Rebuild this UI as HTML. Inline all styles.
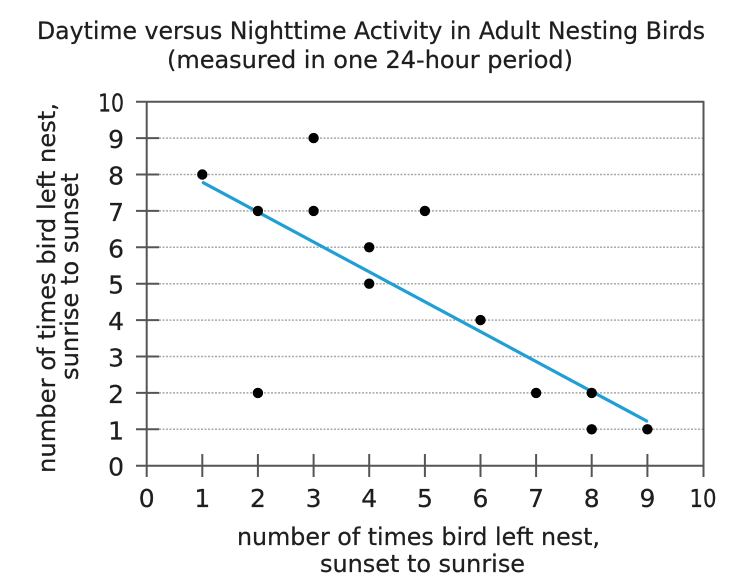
<!DOCTYPE html>
<html><head><meta charset="utf-8"><style>
html,body{margin:0;padding:0;background:#fff;}
svg{display:block;}
text{font-family:"DejaVu Sans","Liberation Sans",sans-serif;fill:#1e1e1e;stroke:#1e1e1e;stroke-width:0.25;}
</style></head><body>
<svg width="742" height="588" viewBox="0 0 742 588" xmlns="http://www.w3.org/2000/svg">
<!-- title -->
<text x="371" y="39" font-size="24" text-anchor="middle" textLength="668" lengthAdjust="spacingAndGlyphs">Daytime versus Nighttime Activity in Adult Nesting Birds</text>
<text x="370" y="68" font-size="24" text-anchor="middle" textLength="406" lengthAdjust="spacingAndGlyphs">(measured in one 24-hour period)</text>
<!-- grid -->
<g stroke="#a8a8a8" stroke-width="1.5" stroke-dasharray="2,1.5">
<line x1="159" y1="429.3" x2="703" y2="429.3"/>
<line x1="159" y1="392.9" x2="703" y2="392.9"/>
<line x1="159" y1="356.5" x2="703" y2="356.5"/>
<line x1="159" y1="320.1" x2="703" y2="320.1"/>
<line x1="159" y1="283.7" x2="703" y2="283.7"/>
<line x1="159" y1="247.3" x2="703" y2="247.3"/>
<line x1="159" y1="210.9" x2="703" y2="210.9"/>
<line x1="159" y1="174.5" x2="703" y2="174.5"/>
<line x1="159" y1="138.1" x2="703" y2="138.1"/>
</g>
<!-- axes/frame -->
<g stroke="#555" stroke-width="2" fill="none">
<line x1="136" y1="101.7" x2="704" y2="101.7"/>
<line x1="703.5" y1="101" x2="703.5" y2="477"/>
<line x1="136" y1="465.7" x2="704" y2="465.7"/>
<line x1="146.7" y1="101" x2="146.7" y2="477"/>
<line x1="136" y1="429.3" x2="159" y2="429.3"/>
<line x1="136" y1="392.9" x2="159" y2="392.9"/>
<line x1="136" y1="356.5" x2="159" y2="356.5"/>
<line x1="136" y1="320.1" x2="159" y2="320.1"/>
<line x1="136" y1="283.7" x2="159" y2="283.7"/>
<line x1="136" y1="247.3" x2="159" y2="247.3"/>
<line x1="136" y1="210.9" x2="159" y2="210.9"/>
<line x1="136" y1="174.5" x2="159" y2="174.5"/>
<line x1="136" y1="138.1" x2="159" y2="138.1"/>
<line x1="202.3" y1="454" x2="202.3" y2="477"/>
<line x1="257.9" y1="454" x2="257.9" y2="477"/>
<line x1="313.6" y1="454" x2="313.6" y2="477"/>
<line x1="369.2" y1="454" x2="369.2" y2="477"/>
<line x1="424.9" y1="454" x2="424.9" y2="477"/>
<line x1="480.5" y1="454" x2="480.5" y2="477"/>
<line x1="536.1" y1="454" x2="536.1" y2="477"/>
<line x1="591.7" y1="454" x2="591.7" y2="477"/>
<line x1="647.4" y1="454" x2="647.4" y2="477"/>
</g>
<!-- y tick labels -->
<g font-size="25" text-anchor="end">
<text x="124" y="475.7">0</text>
<text x="124" y="439.3">1</text>
<text x="124" y="402.9">2</text>
<text x="124" y="366.5">3</text>
<text x="124" y="330.1">4</text>
<text x="124" y="293.7">5</text>
<text x="124" y="257.3">6</text>
<text x="124" y="220.9">7</text>
<text x="124" y="184.5">8</text>
<text x="124" y="148.1">9</text>
<text x="124" y="111.7" textLength="26" lengthAdjust="spacingAndGlyphs">10</text>
</g>
<!-- x tick labels -->
<g font-size="25" text-anchor="middle">
<text x="146.7" y="507">0</text>
<text x="202.3" y="507">1</text>
<text x="257.9" y="507">2</text>
<text x="313.6" y="507">3</text>
<text x="369.2" y="507">4</text>
<text x="424.9" y="507">5</text>
<text x="480.5" y="507">6</text>
<text x="536.1" y="507">7</text>
<text x="591.7" y="507">8</text>
<text x="647.4" y="507">9</text>
<text x="703" y="507" textLength="27" lengthAdjust="spacingAndGlyphs">10</text>
</g>
<!-- axis labels -->
<text x="418.5" y="545" font-size="24" text-anchor="middle" textLength="363" lengthAdjust="spacingAndGlyphs">number of times bird left nest,</text>
<text x="422.5" y="572" font-size="24" text-anchor="middle" textLength="205" lengthAdjust="spacingAndGlyphs">sunset to sunrise</text>
<g transform="translate(55 288) rotate(-90)">
<text x="0" y="0" font-size="24" text-anchor="middle" textLength="370" lengthAdjust="spacingAndGlyphs">number of times bird left nest,</text>
</g>
<g transform="translate(78 276.5) rotate(-90)">
<text x="0" y="0" font-size="24" text-anchor="middle" textLength="207" lengthAdjust="spacingAndGlyphs">sunrise to sunset</text>
</g>
<!-- fitted line -->
<line x1="203.3" y1="182.7" x2="646.7" y2="421" stroke="#1f9fd4" stroke-width="3.2" stroke-linecap="round"/>
<!-- points -->
<g fill="#000">
<circle cx="202.3" cy="174.5" r="5.2"/>
<circle cx="257.9" cy="210.9" r="5.2"/>
<circle cx="313.6" cy="138.1" r="5.2"/>
<circle cx="313.6" cy="210.9" r="5.2"/>
<circle cx="369.2" cy="247.3" r="5.2"/>
<circle cx="369.2" cy="283.7" r="5.2"/>
<circle cx="424.9" cy="210.9" r="5.2"/>
<circle cx="480.5" cy="320.1" r="5.2"/>
<circle cx="257.9" cy="392.9" r="5.2"/>
<circle cx="536.1" cy="392.9" r="5.2"/>
<circle cx="591.7" cy="392.9" r="5.2"/>
<circle cx="591.7" cy="429.3" r="5.2"/>
<circle cx="647.4" cy="429.3" r="5.2"/>
</g>
</svg>
</body></html>
